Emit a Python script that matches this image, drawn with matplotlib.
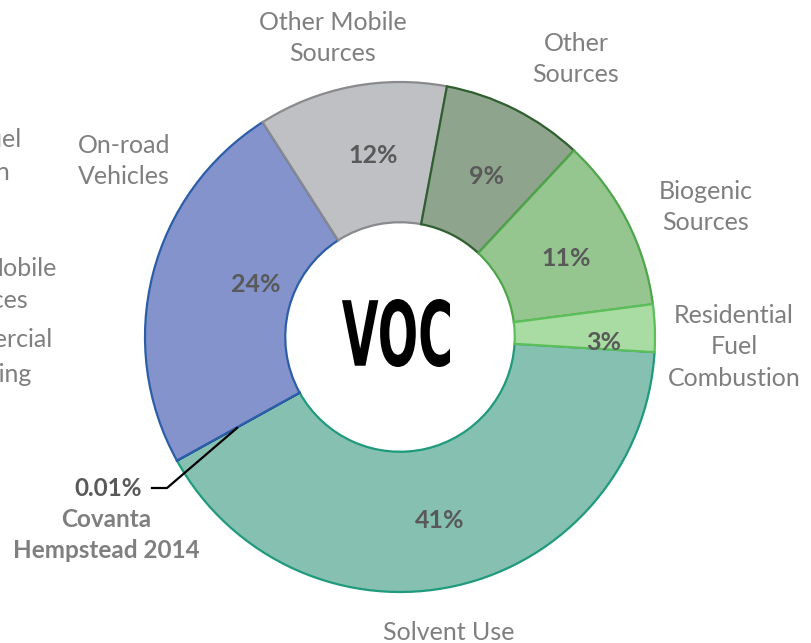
import matplotlib
matplotlib.use("Agg")
import matplotlib.pyplot as plt
from matplotlib.textpath import TextPath
from matplotlib.patches import PathPatch
from matplotlib.font_manager import FontProperties
from matplotlib.transforms import Affine2D

# ------------------ Data (clockwise from the right) ------------------
categories = ["Solvent Use", "Covanta\nHempstead 2014", "On-road\nVehicles",
              "Other Mobile\nSources", "Other\nSources", "Biogenic\nSources",
              "Residential\nFuel\nCombustion"]
values = [41, 0.01, 24, 12, 9, 11, 3]
pct_labels = ["41%", "0.01%", "24%", "12%", "9%", "11%", "3%"]

face_colors = ["#86c0b1", "#7a8ac6", "#8493cc", "#bfc0c4", "#8fa48c", "#96c68f", "#a8dca2"]
edge_colors = ["#1f9a7c", "#1f4f9a", "#2c5ea8", "#8a8a8e", "#2f5f30", "#4ea54a", "#5cbf5a"]

plt.rcParams['font.family'] = ['Lato', 'DejaVu Sans']

W, H = 812, 643
cx, cy, R = 400, 337, 255
fig = plt.figure(figsize=(W / 100, H / 100), dpi=100)
ax = fig.add_axes([(cx - R) / W, (H - cy - R) / H, 2 * R / W, 2 * R / H])

wedges, _ = ax.pie(values, startangle=-3.4, counterclock=False, radius=1,
                   colors=face_colors,
                   wedgeprops=dict(width=0.55, linewidth=1.6))
for w, ec in zip(wedges, edge_colors):
    w.set_edgecolor(ec)
ax.set_xlim(-1, 1)
ax.set_ylim(-1, 1)
ax.set_aspect('equal')
ax.axis('off')


def px(x, y):
    # convert picture pixels to data units of the pie axes
    return (x - cx) / R, (cy - y) / R


gray = "#7f7f7f"
dark = "#595959"
fs = 18

# ------------------ Category labels ------------------
label_pos = {
    "Solvent Use": (449, 632),
    "On-road\nVehicles": (124, 161),
    "Other Mobile\nSources": (333, 38),
    "Other\nSources": (576, 59),
    "Biogenic\nSources": (706, 207),
    "Residential\nFuel\nCombustion": (734, 347),
}
for name, (x, y) in label_pos.items():
    tx, ty = px(x, y)
    ax.text(tx, ty, name, ha='center', va='center', fontsize=fs, color=gray,
            linespacing=1.45, clip_on=False)

# ------------------ Percent labels ------------------
pct_pos = [(440, 521), None, (256, 284), (373, 155), (487, 176), (566, 258), (604, 342)]
for lab, pos in zip(pct_labels, pct_pos):
    if pos is None:
        continue
    tx, ty = px(*pos)
    ax.text(tx, ty, lab, ha='center', va='center', fontsize=fs, color=dark,
            fontweight='bold')

# ------------------ Covanta callout ------------------
tx, ty = px(108, 489)
ax.text(tx, ty, pct_labels[1], ha='center', va='center', fontsize=17.5,
        color=dark, fontweight='bold', clip_on=False)
tx, ty = px(106, 535)
ax.text(tx, ty, categories[1], ha='center', va='center', fontsize=17.5,
        color=gray, fontweight='bold', linespacing=1.38, clip_on=False)
lx, ly = zip(px(152, 488), px(167, 488), px(237, 428))
ax.plot(lx, ly, color='black', lw=1.6, clip_on=False)

# ------------------ Centre title ------------------
tp = TextPath((0, 0), "VOC", size=1, prop=FontProperties(family="DejaVu Sans", weight="bold"))
bb = tp.get_extents()
x0, y0 = px(342, 367)
x1, y1 = px(450, 299)
trans = (Affine2D().translate(-bb.x0, -bb.y0)
         .scale((x1 - x0) / bb.width, (y1 - y0) / bb.height)
         .translate(x0, y0))
ax.add_patch(PathPatch(trans.transform_path(tp), facecolor='black', lw=0))

# ------------------ Neighbouring panel labels (cut off at the edge) ------------------
side = [("Fuel", 22, 140), ("Combustion", 11, 172), ("Mobile", 57, 268),
        ("Sources", 28, 300), ("Commercial", 53, 340), ("Cooking", 32, 374)]
for s, x, y in side:
    fig.text(x / W, 1 - y / H, s, ha='right', va='center', fontsize=fs, color=gray)

fig.savefig("out.png", dpi=100)
